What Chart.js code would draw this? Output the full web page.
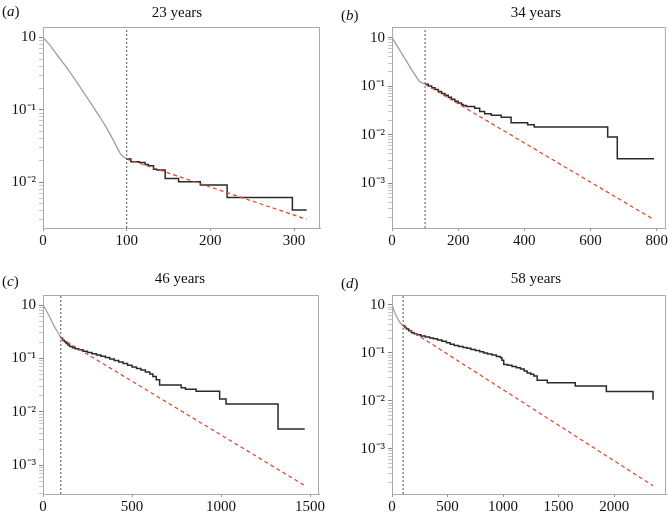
<!DOCTYPE html>
<html>
<head>
<meta charset="utf-8">
<script src="https://cdn.jsdelivr.net/npm/chart.js@4.4.1/dist/chart.umd.min.js"></script>
<style>
  body { margin: 0; background: #fff; }
  #wrap { position: relative; width: 669px; height: 518px; font-family: 'Liberation Serif', 'Times New Roman', serif; font-size: 15px; color: #111; }
  canvas { position: absolute; }
  .lbl { position: absolute; line-height: 18px; white-space: nowrap; }
  .ttl { position: absolute; line-height: 18px; white-space: nowrap; transform: translateX(-50%); }
</style>
</head>
<body>
<div id="wrap"></div>
<script>
  // panel texts
  const titles = ['23 years', '34 years', '46 years', '58 years'];
  const panelLetters = ['a', 'b', 'c', 'd'];

  // y tick labels (decades)
  const yTickValues = [1, 0.1, 0.01, 0.001];
  const yTickLabels = ['10', '10⁻¹', '10⁻²', '10⁻³'];
  const xStep = [100, 200, 500, 500];
  const cutoff = 100;

  // (a) 23 years
  const greyA = [[0, 1], [8, 0.794], [20, 0.513], [28, 0.389], [40, 0.245], [48, 0.178], [60, 0.11], [68, 0.0794], [76, 0.0562], [84, 0.038], [88, 0.0309], [92, 0.0251], [96, 0.0224], [100, 0.0209]];
  const blackA = [[100, 0.0208], [105, 0.0191], [115, 0.0187], [122, 0.0175], [126, 0.0168], [132, 0.015], [136, 0.0147], [146, 0.0112], [162, 0.0101], [188, 0.0091], [220, 0.0061], [298, 0.0041], [315, 0.0041]];
  const fitA = [[100, 0.0208], [315, 0.00305]];

  // (b) 34 years
  const greyB = [[0, 1], [20, 0.6], [40, 0.36], [60, 0.215], [83, 0.124], [100, 0.11]];
  const blackB = [[100, 0.11], [110, 0.101], [120, 0.093], [130, 0.085], [140, 0.078], [150, 0.071], [160, 0.065], [170, 0.059], [180, 0.054], [190, 0.049], [200, 0.045], [210, 0.042], [215, 0.04], [225, 0.038], [250, 0.035], [265, 0.03], [280, 0.027], [300, 0.025], [330, 0.023], [360, 0.0176], [410, 0.016], [430, 0.0144], [652, 0.009], [681, 0.0032], [792, 0.0032]];
  const fitB = [[100, 0.11], [790, 0.00018]];

  // (c) 46 years
  const greyC = [[0, 1], [18, 0.8], [37, 0.605], [50, 0.49], [65, 0.39], [80, 0.32], [94, 0.27], [100, 0.24]];
  const blackC = [[100, 0.24], [110, 0.22], [120, 0.205], [130, 0.19], [140, 0.178], [150, 0.168], [165, 0.158], [180, 0.152], [200, 0.145], [225, 0.136], [250, 0.129], [275, 0.122], [300, 0.116], [325, 0.11], [350, 0.104], [375, 0.098], [400, 0.092], [425, 0.086], [450, 0.081], [475, 0.075], [500, 0.069], [525, 0.065], [550, 0.061], [575, 0.056], [600, 0.051], [617, 0.046], [636, 0.04], [655, 0.032], [776, 0.0285], [800, 0.0265], [860, 0.0243], [992, 0.0175], [1028, 0.0141], [1320, 0.0048], [1470, 0.0048]];
  const fitC = [[100, 0.24], [1470, 0.00042]];

  // (d) 58 years
  const greyD = [[0, 1], [12, 0.84], [27, 0.67], [42, 0.57], [57, 0.49], [75, 0.42], [100, 0.37]];
  const blackD = [[100, 0.37], [115, 0.34], [130, 0.315], [150, 0.29], [175, 0.265], [200, 0.25], [223, 0.24], [260, 0.225], [300, 0.215], [340, 0.205], [373, 0.198], [410, 0.185], [450, 0.175], [490, 0.162], [524, 0.152], [560, 0.143], [600, 0.136], [640, 0.13], [675, 0.125], [710, 0.118], [750, 0.112], [790, 0.106], [825, 0.1], [860, 0.095], [900, 0.09], [940, 0.084], [976, 0.079], [990, 0.07], [1006, 0.057], [1040, 0.055], [1080, 0.052], [1120, 0.049], [1157, 0.046], [1190, 0.042], [1217, 0.038], [1250, 0.036], [1277, 0.033], [1307, 0.027], [1398, 0.024], [1650, 0.0205], [1930, 0.0157], [2350, 0.0105]];
  const fitD = [[100, 0.37], [2350, 0.00017]];

  const greys = [greyA, greyB, greyC, greyD];
  const blacks = [blackA, blackB, blackC, blackD];
  const fits = [fitA, fitB, fitC, fitD];

  // axis ranges
  const xMax = [331, 828, 1550, 2467];
  const yMin = [0.00231, 0.000119, 0.000292, 0.000114];
  const yMax = [1.40, 1.66, 1.54, 1.615];

  // where each panel sits on the page
  const boxes = [
    { left: 0, top: 0, w: 334, h: 259, padTop: 27, padRight: 14, yW: 43, xH: 31, tx: 177, ty: 3, lx: 2, ly: 2 },
    { left: 334, top: 0, w: 335, h: 259, padTop: 27, padRight: 3, yW: 58, xH: 31, tx: 536, ty: 3, lx: 341, ly: 6 },
    { left: 0, top: 259, w: 334, h: 259, padTop: 36, padRight: 15, yW: 43, xH: 24, tx: 180, ty: 269, lx: 2, ly: 272 },
    { left: 334, top: 259, w: 335, h: 259, padTop: 36, padRight: 3, yW: 58, xH: 24, tx: 536, ty: 269, lx: 341, ly: 274 }
  ];

  Chart.defaults.font.family = "'Liberation Serif', 'Times New Roman', serif";
  Chart.defaults.font.size = 15;
  Chart.defaults.color = '#111';

  const frame = {
    id: 'frame',
    afterDraw(chart) {
      const a = chart.chartArea;
      const c = chart.ctx;
      c.save();
      c.strokeStyle = '#aaa';
      c.lineWidth = 1;
      c.beginPath();
      c.moveTo(a.left, a.top + 0.5);
      c.lineTo(a.right - 0.5, a.top + 0.5);
      c.lineTo(a.right - 0.5, a.bottom);
      c.stroke();
      c.restore();
    }
  };

  const toXY = arr => arr.map(p => ({ x: p[0], y: p[1] }));
  const wrap = document.getElementById('wrap');

  function isDecade(v) {
    return yTickValues.findIndex(t => Math.abs(t - v) / t < 1e-6);
  }

  boxes.forEach((b, i) => {
    const cv = document.createElement('canvas');
    cv.width = b.w;
    cv.height = b.h;
    cv.style.left = b.left + 'px';
    cv.style.top = b.top + 'px';
    wrap.appendChild(cv);

    const t = document.createElement('div');
    t.className = 'ttl';
    t.style.left = b.tx + 'px';
    t.style.top = b.ty + 'px';
    t.textContent = titles[i];
    wrap.appendChild(t);

    const l = document.createElement('div');
    l.className = 'lbl';
    l.style.left = b.lx + 'px';
    l.style.top = b.ly + 'px';
    l.innerHTML = '(<i>' + panelLetters[i] + '</i>)';
    wrap.appendChild(l);

    new Chart(cv.getContext('2d'), {
      type: 'line',
      data: {
        datasets: [
          {
            data: [{ x: cutoff, y: yMin[i] }, { x: cutoff, y: yMax[i] }],
            borderColor: '#555',
            borderWidth: 1,
            borderDash: [2, 2]
          },
          {
            data: toXY(greys[i]),
            borderColor: '#a0a0a0',
            borderWidth: 1.3
          },
          {
            data: toXY(fits[i]),
            borderColor: '#e0432b',
            borderWidth: 1.2,
            borderDash: [4, 3]
          },
          {
            data: toXY(blacks[i]),
            borderColor: '#2a2a2a',
            borderWidth: 1.5,
            stepped: true
          }
        ]
      },
      options: {
        responsive: false,
        animation: false,
        layout: { padding: { top: b.padTop, right: b.padRight, left: 0, bottom: 0 } },
        elements: { point: { radius: 0 }, line: { tension: 0 } },
        plugins: { legend: { display: false }, title: { display: false }, tooltip: { enabled: false } },
        scales: {
          x: {
            type: 'linear',
            min: 0,
            max: xMax[i],
            border: { color: '#aaa' },
            grid: { drawOnChartArea: false, tickLength: 3, color: '#999' },
            ticks: { autoSkip: false, padding: 1, maxRotation: 0, color: '#111', callback: v => String(v) },
            afterBuildTicks(scale) {
              const ticks = [];
              for (let v = 0; v <= scale.max; v += xStep[i]) ticks.push({ value: v });
              scale.ticks = ticks;
            },
            afterFit(scale) { scale.height = b.xH; }
          },
          y: {
            type: 'logarithmic',
            min: yMin[i],
            max: yMax[i],
            border: { color: '#aaa' },
            grid: {
              drawOnChartArea: false,
              tickLength: 4,
              color: ctx => (ctx.tick && isDecade(ctx.tick.value) >= 0 ? '#888' : '#c4c4c4')
            },
            ticks: {
              autoSkip: false,
              padding: 3,
              color: '#111',
              callback: v => {
                const k = isDecade(v);
                return k >= 0 ? yTickLabels[k] : '';
              }
            },
            afterBuildTicks(scale) {
              const ticks = [];
              [1e-4, 1e-3, 1e-2, 1e-1, 1].forEach(d => {
                for (let m = 1; m < 10; m++) {
                  const v = d * m;
                  if (v >= scale.min && v <= scale.max) ticks.push({ value: v });
                }
              });
              scale.ticks = ticks;
            },
            afterFit(scale) { scale.width = b.yW; }
          }
        }
      },
      plugins: [frame]
    });
  });
</script>
</body>
</html>
